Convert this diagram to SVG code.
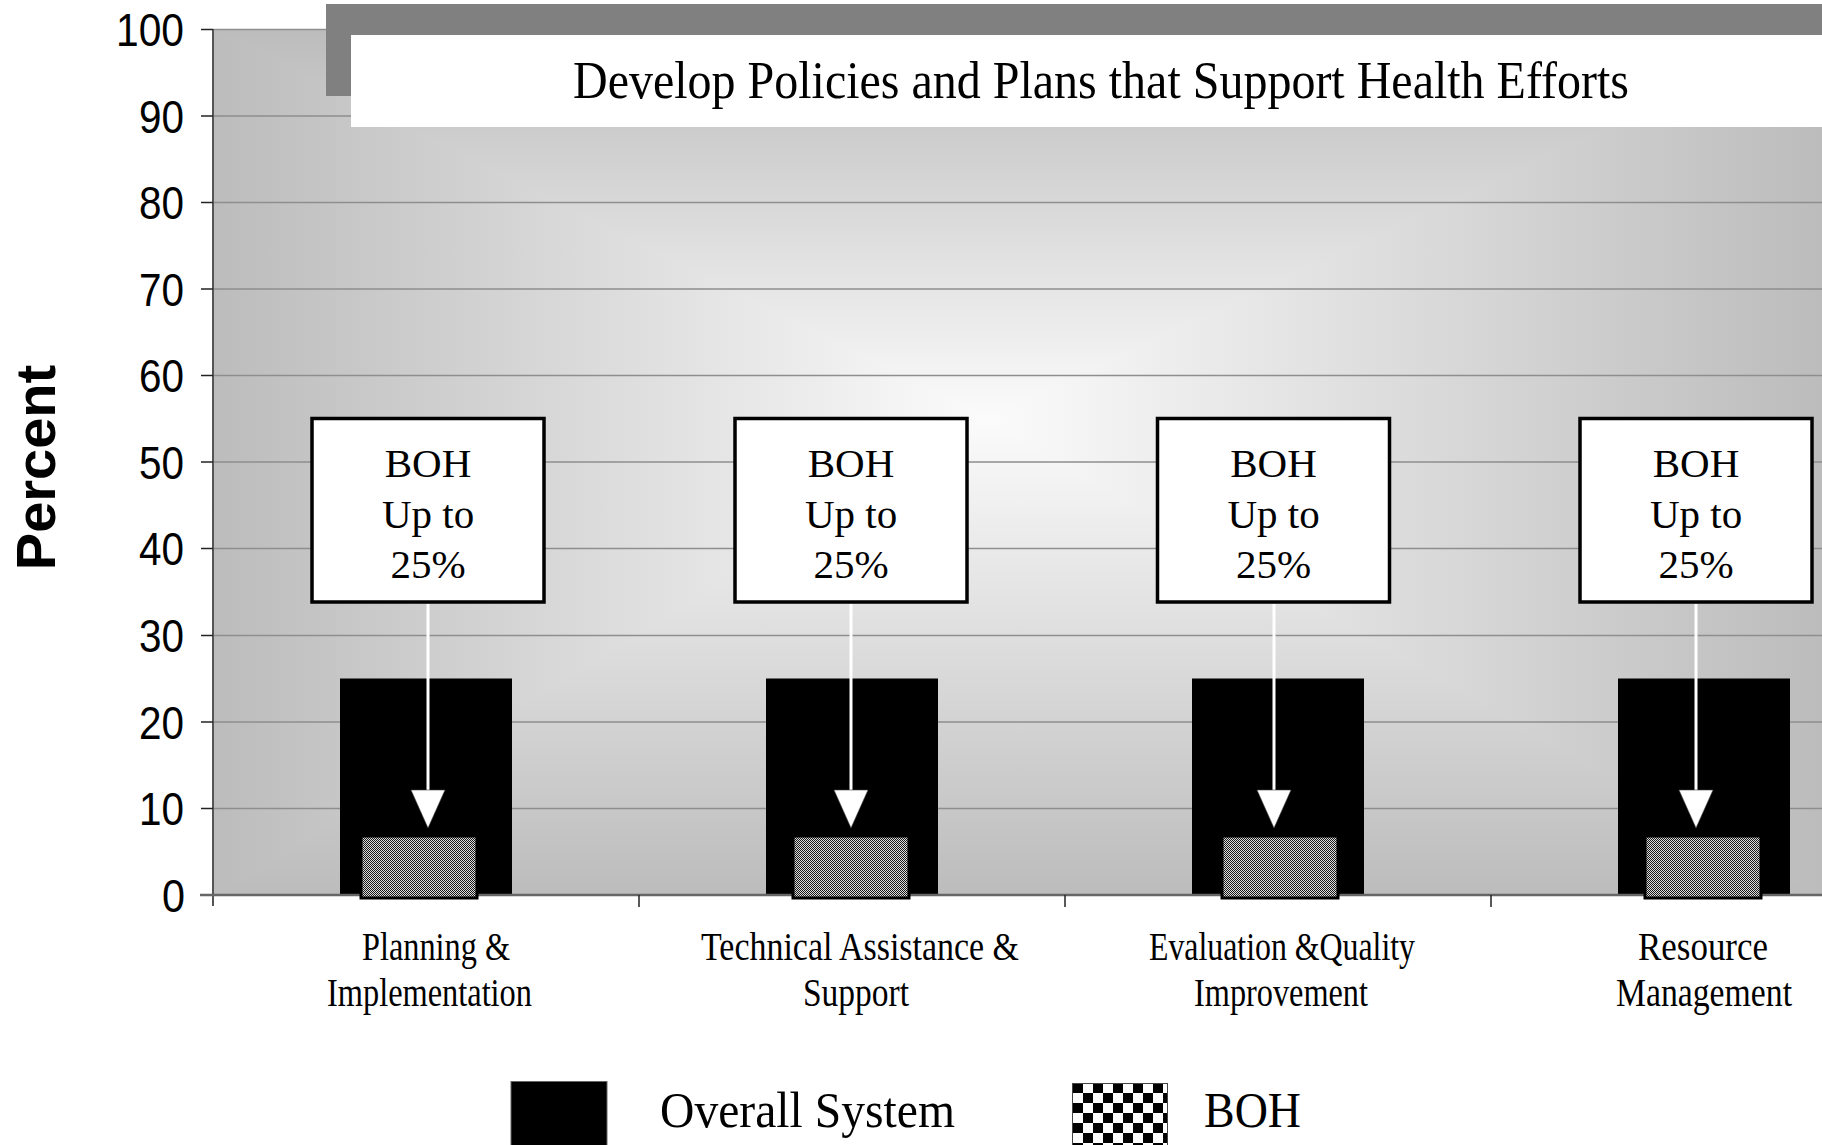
<svg xmlns="http://www.w3.org/2000/svg" width="1822" height="1145" viewBox="0 0 1822 1145">
  <style>
    .tick-label { font-family: "Liberation Sans", Arial, sans-serif; font-size: 47px; fill: #000; text-anchor: end; }
    .axis-title { font-family: "Liberation Sans", Arial, sans-serif; font-size: 56px; font-weight: bold; fill: #000; text-anchor: middle; }
    .title { font-family: "Liberation Serif", "Times New Roman", serif; font-size: 52px; fill: #000; text-anchor: middle; }
    .box-text { font-family: "Liberation Serif", "Times New Roman", serif; font-size: 41px; fill: #000; text-anchor: middle; }
    .cat { font-family: "Liberation Serif", "Times New Roman", serif; font-size: 40px; fill: #000; text-anchor: middle; }
    .legend-text { font-family: "Liberation Serif", "Times New Roman", serif; font-size: 50px; fill: #000; }
    .grid { stroke: #8e8e8e; stroke-width: 1.5; }
    .ytick { stroke: #222; stroke-width: 1.5; }
    .xtick { stroke: #222; stroke-width: 1.5; }
    .overall { fill: #000; }
    .boh { fill: url(#fineChecker); stroke: #000; stroke-width: 3; }
    .callout { fill: #fff; stroke: #000; stroke-width: 3.5; }
    .arrow-line { stroke: #fff; stroke-width: 3; fill: none; }
    .arrow-head { fill: #fff; stroke: #444; stroke-width: 0.6; }
  </style>
  <defs>
    <linearGradient id="hGrad" x1="0" y1="0" x2="1" y2="0">
      <stop offset="0" stop-color="#bcbcbc"/>
      <stop offset="0.48" stop-color="#fbfbfb"/>
      <stop offset="1" stop-color="#bcbcbc"/>
    </linearGradient>
    <linearGradient id="vGrad" x1="0" y1="0" x2="0" y2="1">
      <stop offset="0" stop-color="#bcbcbc"/>
      <stop offset="0.45" stop-color="#fbfbfb"/>
      <stop offset="1" stop-color="#bcbcbc"/>
    </linearGradient>
    <pattern id="fineChecker" patternUnits="userSpaceOnUse" x="0" y="0" width="2" height="2">
      <rect x="0" y="0" width="2" height="2" fill="#dcdcdc"/>
      <rect x="0" y="0" width="1" height="1" fill="#1a1a1a"/>
      <rect x="1" y="1" width="1" height="1" fill="#1a1a1a"/>
    </pattern>
    <pattern id="bigChecker" patternUnits="userSpaceOnUse" x="1063" y="1083" width="20" height="20">
      <rect x="0" y="0" width="20" height="20" fill="#fff"/>
      <rect x="10" y="0" width="10" height="10" fill="#000"/>
      <rect x="0" y="10" width="10" height="10" fill="#000"/>
    </pattern>
  </defs>

  <rect x="0" y="0" width="1822" height="1145" fill="#fff"/>

  <!-- plot area background (rectangular from-centre gradient) -->
  <g id="plot-area" style="isolation:isolate">
    <rect x="213" y="29" width="1609" height="866" fill="url(#hGrad)"/>
    <rect x="213" y="29" width="1609" height="866" fill="url(#vGrad)" style="mix-blend-mode:darken"/>
  </g>

  <!-- gridlines -->
  <g id="gridlines">
    <line class="grid" x1="213" y1="29.5" x2="1822" y2="29.5"/>
    <line class="grid" x1="213" y1="116" x2="1822" y2="116"/>
    <line class="grid" x1="213" y1="202.5" x2="1822" y2="202.5"/>
    <line class="grid" x1="213" y1="289" x2="1822" y2="289"/>
    <line class="grid" x1="213" y1="375.5" x2="1822" y2="375.5"/>
    <line class="grid" x1="213" y1="462" x2="1822" y2="462"/>
    <line class="grid" x1="213" y1="548.5" x2="1822" y2="548.5"/>
    <line class="grid" x1="213" y1="635.5" x2="1822" y2="635.5"/>
    <line class="grid" x1="213" y1="722" x2="1822" y2="722"/>
    <line class="grid" x1="213" y1="808.5" x2="1822" y2="808.5"/>
  </g>

  <!-- title -->
  <g id="title">
    <rect x="326" y="4" width="1496" height="92" fill="#808080"/>
    <rect x="351" y="35" width="1471" height="92" fill="#fff"/>
    <text class="title" x="1101" y="98" textLength="1056" lengthAdjust="spacingAndGlyphs">Develop Policies and Plans that Support Health Efforts</text>
  </g>

  <!-- bars -->
  <g id="bars-overall">
    <rect class="overall" x="340" y="678.5" width="172" height="216.5"/>
    <rect class="overall" x="766" y="678.5" width="172" height="216.5"/>
    <rect class="overall" x="1192" y="678.5" width="172" height="216.5"/>
    <rect class="overall" x="1618" y="678.5" width="172" height="216.5"/>
  </g>

  <!-- axes -->
  <g id="axes">
    <line x1="213" y1="29" x2="213" y2="906" stroke="#555" stroke-width="2"/>
    <line x1="200" y1="895" x2="1822" y2="895" stroke="#666" stroke-width="2.5"/>
    <line class="ytick" x1="201" y1="29.5" x2="213" y2="29.5"/>
    <line class="ytick" x1="201" y1="116" x2="213" y2="116"/>
    <line class="ytick" x1="201" y1="202.5" x2="213" y2="202.5"/>
    <line class="ytick" x1="201" y1="289" x2="213" y2="289"/>
    <line class="ytick" x1="201" y1="375.5" x2="213" y2="375.5"/>
    <line class="ytick" x1="201" y1="462" x2="213" y2="462"/>
    <line class="ytick" x1="201" y1="548.5" x2="213" y2="548.5"/>
    <line class="ytick" x1="201" y1="635.5" x2="213" y2="635.5"/>
    <line class="ytick" x1="201" y1="722" x2="213" y2="722"/>
    <line class="ytick" x1="201" y1="808.5" x2="213" y2="808.5"/>
    <line class="xtick" x1="639" y1="895" x2="639" y2="907"/>
    <line class="xtick" x1="1065" y1="895" x2="1065" y2="907"/>
    <line class="xtick" x1="1491" y1="895" x2="1491" y2="907"/>
  </g>

  <g id="bars-boh">
    <rect class="boh" x="361" y="836" width="116" height="62"/>
    <rect class="boh" x="793" y="836" width="116" height="62"/>
    <rect class="boh" x="1222" y="836" width="116" height="62"/>
    <rect class="boh" x="1645" y="836" width="116" height="62"/>
  </g>

  <!-- y tick labels -->
  <g id="y-labels">
    <text class="tick-label" x="184" y="46" textLength="68" lengthAdjust="spacingAndGlyphs">100</text>
    <text class="tick-label" x="184" y="132.5" textLength="45" lengthAdjust="spacingAndGlyphs">90</text>
    <text class="tick-label" x="184" y="219" textLength="45" lengthAdjust="spacingAndGlyphs">80</text>
    <text class="tick-label" x="184" y="305.5" textLength="45" lengthAdjust="spacingAndGlyphs">70</text>
    <text class="tick-label" x="184" y="392" textLength="45" lengthAdjust="spacingAndGlyphs">60</text>
    <text class="tick-label" x="184" y="478.5" textLength="45" lengthAdjust="spacingAndGlyphs">50</text>
    <text class="tick-label" x="184" y="565" textLength="45" lengthAdjust="spacingAndGlyphs">40</text>
    <text class="tick-label" x="184" y="652" textLength="45" lengthAdjust="spacingAndGlyphs">30</text>
    <text class="tick-label" x="184" y="738.5" textLength="45" lengthAdjust="spacingAndGlyphs">20</text>
    <text class="tick-label" x="184" y="825" textLength="45" lengthAdjust="spacingAndGlyphs">10</text>
    <text class="tick-label" x="185" y="911.5" textLength="23" lengthAdjust="spacingAndGlyphs">0</text>
  </g>

  <text class="axis-title" transform="translate(55,467.5) rotate(-90)" x="0" y="0">Percent</text>

  <!-- callout nodes -->
  <g id="callout-1">
    <rect class="callout" x="312" y="418.5" width="232" height="183.5"/>
    <text class="box-text" x="428" y="477">BOH</text>
    <text class="box-text" x="428" y="528">Up to</text>
    <text class="box-text" x="428" y="578">25%</text>
  </g>
  <g id="callout-2">
    <rect class="callout" x="735" y="418.5" width="232" height="183.5"/>
    <text class="box-text" x="851" y="477">BOH</text>
    <text class="box-text" x="851" y="528">Up to</text>
    <text class="box-text" x="851" y="578">25%</text>
  </g>
  <g id="callout-3">
    <rect class="callout" x="1157.5" y="418.5" width="232" height="183.5"/>
    <text class="box-text" x="1273.5" y="477">BOH</text>
    <text class="box-text" x="1273.5" y="528">Up to</text>
    <text class="box-text" x="1273.5" y="578">25%</text>
  </g>
  <g id="callout-4">
    <rect class="callout" x="1580" y="418.5" width="232" height="183.5"/>
    <text class="box-text" x="1696" y="477">BOH</text>
    <text class="box-text" x="1696" y="528">Up to</text>
    <text class="box-text" x="1696" y="578">25%</text>
  </g>

  <!-- connectors -->
  <g id="connectors">
    <line class="arrow-line" x1="428" y1="604" x2="428" y2="792"/>
    <polygon class="arrow-head" points="411,790 445,790 428,828"/>
    <line class="arrow-line" x1="851" y1="604" x2="851" y2="792"/>
    <polygon class="arrow-head" points="834,790 868,790 851,828"/>
    <line class="arrow-line" x1="1274" y1="604" x2="1274" y2="792"/>
    <polygon class="arrow-head" points="1257,790 1291,790 1274,828"/>
    <line class="arrow-line" x1="1696" y1="604" x2="1696" y2="792"/>
    <polygon class="arrow-head" points="1679,790 1713,790 1696,828"/>
  </g>

  <!-- category labels -->
  <g id="categories">
    <text class="cat" x="436" y="960" textLength="148" lengthAdjust="spacingAndGlyphs">Planning &amp;</text>
    <text class="cat" x="429.5" y="1006" textLength="205" lengthAdjust="spacingAndGlyphs">Implementation</text>
    <text class="cat" x="860" y="960" textLength="318" lengthAdjust="spacingAndGlyphs">Technical Assistance &amp;</text>
    <text class="cat" x="856" y="1006" textLength="106" lengthAdjust="spacingAndGlyphs">Support</text>
    <text class="cat" x="1282" y="960" textLength="266" lengthAdjust="spacingAndGlyphs">Evaluation &amp;Quality</text>
    <text class="cat" x="1281" y="1006" textLength="174" lengthAdjust="spacingAndGlyphs">Improvement</text>
    <text class="cat" x="1703" y="960" textLength="130" lengthAdjust="spacingAndGlyphs">Resource</text>
    <text class="cat" x="1704" y="1006" textLength="176" lengthAdjust="spacingAndGlyphs">Management</text>
  </g>

  <!-- legend -->
  <g id="legend">
    <g id="legend-overall">
      <rect x="511" y="1081.5" width="96" height="70" fill="#000" stroke="#666" stroke-width="1"/>
      <text class="legend-text" x="660" y="1127" textLength="295" lengthAdjust="spacingAndGlyphs">Overall System</text>
    </g>
    <g id="legend-boh">
      <rect x="1072.5" y="1083.5" width="95" height="70" fill="url(#bigChecker)" stroke="#444" stroke-width="1"/>
      <text class="legend-text" x="1204" y="1127" textLength="97" lengthAdjust="spacingAndGlyphs">BOH</text>
    </g>
  </g>
</svg>
